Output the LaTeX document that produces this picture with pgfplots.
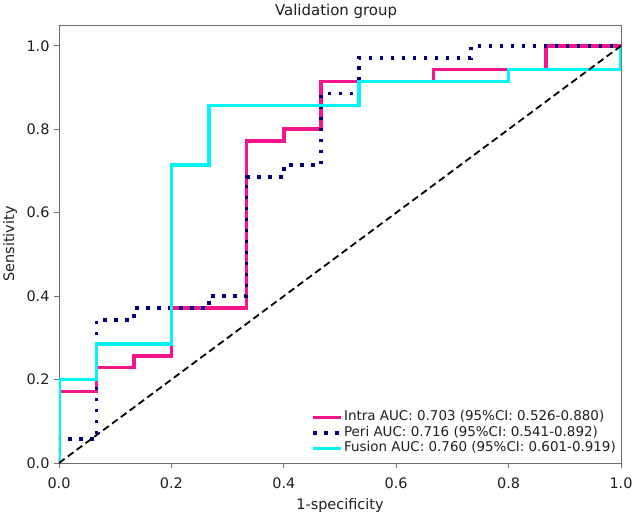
\documentclass[border=0pt]{standalone}
\usepackage{pgfplots}
\pgfplotsset{compat=1.18}
\usepackage{fontspec}
\setmainfont{DejaVu Sans}
\definecolor{intra}{RGB}{245,20,140}
\definecolor{peri}{RGB}{0,0,120}
\definecolor{fusion}{RGB}{0,245,250}
\definecolor{txt}{RGB}{30,30,30}
\definecolor{frame}{RGB}{110,110,110}
\begin{document}
\begin{tikzpicture}
\begin{axis}[
  name=ax,
  scale only axis,
  width=562bp, height=438bp,
  xmin=0, xmax=1, ymin=0, ymax=1.05,
  xtick={0,0.2,0.4,0.6,0.8,1.0},
  ytick={0,0.2,0.4,0.6,0.8,1.0},
  xtick pos=left, ytick pos=left,
  tick align=outside,
  major tick length=5bp,
  axis line style={frame, line width=0.8bp},
  every tick/.style={frame, line width=0.8bp},
  /pgf/number format/.cd, fixed, fixed zerofill, precision=1, assume math mode=true,
  /pgfplots/.cd,
  tick label style={font=\fontsize{14.5}{16}\selectfont, text=txt},
  xticklabel style={yshift=-6bp},
  yticklabel style={xshift=-1bp},
  every axis title shift=0pt,
  title={Validation group},
  title style={at={(axis description cs:0.493,1.030)}, anchor=center, font=\fontsize{15}{17}\selectfont, text=txt},
  xlabel={1-specificity},
  xlabel style={at={(axis description cs:0.5,-0.096)}, anchor=center, font=\fontsize{14.5}{16}\selectfont, text=txt},
  ylabel={Sensitivity},
  ylabel style={at={(axis description cs:-0.087,0.5)}, anchor=center, rotate=0, font=\fontsize{14.5}{16}\selectfont, text=txt},
  legend style={at={(axis cs:1,0)}, anchor=south east, xshift=-3bp, yshift=6bp, draw=none, fill=none,
    font=\fontsize{13.5}{15}\selectfont, text=txt, row sep=0.5bp, inner sep=1bp,
    nodes={inner sep=1bp, text height=10bp, text depth=3bp}},
  legend cell align=left,
  legend image code/.code={\draw[#1] (0bp,0bp) -- (28bp,0bp);},
]
\addplot[intra, line width=3.6bp] coordinates {
(0,0)(0,0.1714)(0.0667,0.1714)(0.0667,0.2286)(0.1333,0.2286)(0.1333,0.2571)(0.2,0.2571)(0.2,0.3714)
(0.3333,0.3714)(0.3333,0.7714)(0.4,0.7714)(0.4,0.8)(0.4667,0.8)(0.4667,0.9143)(0.6667,0.9143)
(0.6667,0.9429)(0.8667,0.9429)(0.8667,1)(1,1)};
\addlegendentry{Intra AUC: 0.703 (95\%CI: 0.526-0.880)}
\addplot[peri, line width=3.6bp, dash pattern=on 3.6bp off 7.4bp] coordinates {
(0,0)(0,0.0571)(0.0667,0.0571)(0.0667,0.3429)(0.1333,0.3429)(0.1333,0.3714)(0.2667,0.3714)(0.2667,0.4)
(0.3333,0.4)(0.3333,0.6857)(0.4,0.6857)(0.4,0.7143)(0.4667,0.7143)(0.4667,0.8857)(0.5333,0.8857)
(0.5333,0.9714)(0.7333,0.9714)(0.7333,1)(1,1)};
\addlegendentry{Peri AUC: 0.716 (95\%CI: 0.541-0.892)}
\addplot[fusion, line width=3.6bp] coordinates {
(0,0)(0,0.2)(0.0667,0.2)(0.0667,0.2857)(0.2,0.2857)(0.2,0.7143)(0.2667,0.7143)(0.2667,0.8571)
(0.5333,0.8571)(0.5333,0.9143)(0.8,0.9143)(0.8,0.9429)(1,0.9429)(1,1)};
\addlegendentry{Fusion AUC: 0.760 (95\%CI: 0.601-0.919)}
\addplot[black, line width=1.8bp, dash pattern=on 7bp off 4bp, forget plot] coordinates {(0,0)(1,1)};
\end{axis}
\pgfresetboundingbox
\path[use as bounding box] ([shift={(-59bp,-52bp)}]ax.south west) rectangle ([shift={(13bp,25bp)}]ax.north east);
\end{tikzpicture}
\end{document}
